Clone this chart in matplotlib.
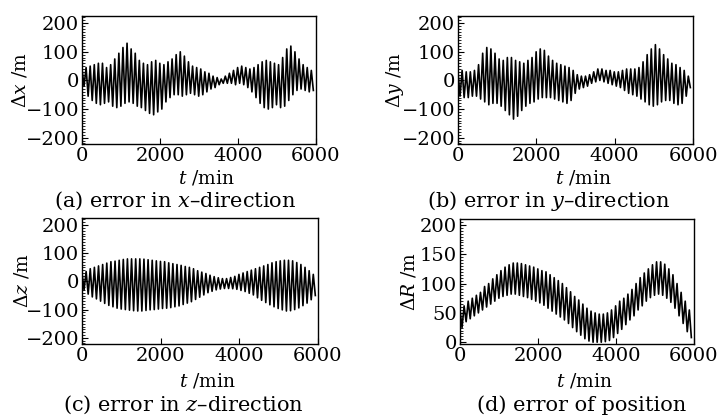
import numpy as np
import matplotlib.pyplot as plt
from matplotlib.ticker import MultipleLocator

plt.rcParams["font.family"] = "DejaVu Serif"
plt.rcParams["mathtext.fontset"] = "dejavuserif"

# one peak per orbit revolution (min), upper peak then lower peak half a period later
period = 105
half = 52

# (a) error in x, upper / lower peaks (m)
dx_hi = [40, 45, 50, 55, 60, 60, 45, 55, 75, 95, 115, 130, 110, 95, 70, 60, 55, 65, 70,
         60, 55, 65, 75, 90, 100, 85, 65, 50, 45, 40, 30, 25, 15, 10, 5, 15, 25, 35, 45,
         50, 45, 40, 45, 55, 65, 70, 65, 60, 55, 80, 110, 120, 100, 75, 55, 45, 35]
dx_lo = [-20, -55, -70, -80, -85, -80, -75, -90, -95, -90, -80, -75, -80, -90, -95, -105,
         -115, -120, -110, -100, -75, -60, -50, -50, -55, -50, -45, -50, -55, -50, -40,
         -30, -25, -15, -10, -10, -10, -15, -10, -15, -25, -40, -60, -80, -95, -100, -95,
         -85, -95, -90, -70, -50, -35, -30, -35, -40, -35]

# (b) error in y
dy_hi = [30, 35, 30, 30, 35, 55, 95, 115, 110, 95, 75, 70, 80, 80, 70, 65, 60, 70, 80,
         100, 110, 105, 85, 70, 60, 55, 50, 45, 35, 20, 15, 15, 20, 30, 40, 40, 35, 35,
         30, 30, 35, 40, 40, 40, 45, 65, 90, 110, 125, 110, 90, 75, 60, 55, 45, 35, 15]
dy_lo = [-55, -60, -60, -55, -55, -65, -75, -85, -80, -80, -90, -105, -120, -135, -125,
         -105, -90, -80, -75, -65, -60, -60, -60, -65, -70, -75, -80, -70, -45, -30, -25,
         -20, -10, -5, 0, -5, -10, -15, -20, -25, -35, -45, -50, -55, -65, -75, -85, -90,
         -85, -75, -70, -70, -80, -85, -80, -55, -25]

# (c) error in z
dz_hi = [30, 35, 45, 50, 55, 60, 65, 70, 72, 75, 78, 80, 80, 80, 80, 79, 77, 75, 73, 71,
         70, 66, 63, 60, 57, 53, 50, 45, 38, 33, 28, 22, 17, 13, 10, 10, 14, 18, 25, 30,
         35, 40, 45, 50, 55, 60, 66, 70, 73, 75, 75, 73, 67, 60, 50, 38, 25]
dz_lo = [-30, -45, -55, -62, -70, -78, -85, -90, -95, -98, -100, -102, -104, -105, -105,
         -103, -101, -100, -98, -96, -95, -93, -90, -87, -82, -77, -72, -64, -56, -48,
         -40, -35, -30, -27, -25, -25, -26, -28, -32, -36, -42, -48, -58, -67, -75, -83,
         -90, -96, -101, -105, -104, -100, -94, -86, -77, -65, -50]

# (d) error of position
dr_hi = [55, 62, 70, 75, 80, 85, 95, 100, 108, 115, 122, 128, 132, 135, 135, 134, 132,
         130, 128, 125, 122, 120, 115, 110, 105, 100, 93, 86, 78, 72, 65, 58, 53, 50, 48,
         48, 50, 55, 62, 70, 75, 82, 90, 100, 110, 118, 125, 132, 137, 137, 133, 125,
         115, 100, 85, 70, 55]
dr_lo = [25, 35, 40, 45, 50, 55, 60, 65, 70, 75, 78, 80, 82, 82, 80, 78, 76, 73, 70, 67,
         63, 58, 53, 48, 43, 38, 32, 25, 18, 12, 6, 2, 0, 0, 0, 1, 3, 8, 15, 22, 30, 38,
         45, 55, 62, 70, 76, 80, 82, 80, 75, 68, 58, 45, 32, 18, 8]

panels = [
    (dx_hi, dx_lo, r"$\Delta x$ /m", r"(a) error in $x$–direction"),
    (dy_hi, dy_lo, r"$\Delta y$ /m", r"(b) error in $y$–direction"),
    (dz_hi, dz_lo, r"$\Delta z$ /m", r"(c) error in $z$–direction"),
    (dr_hi, dr_lo, r"$\Delta R$ /m", "(d) error of position"),
]

W, H = 718, 415
fig = plt.figure(figsize=(W / 100, H / 100), dpi=100)

# axes boxes in pixels: left, top, right, bottom
boxes = [(82, 16, 316, 144), (458, 16, 693, 144), (82, 218, 318, 344), (460, 219, 694, 344)]
ylab_x = [20, 395, 22, 409]
cap_x = [175, 549, 183, 582]
tlab_dy = [34, 34, 37, 37]
cap_dy = [57, 57, 61, 61]

for i, (hi, lo, ylab, cap) in enumerate(panels):
    l, t, r, b = boxes[i]
    ax = fig.add_axes([l / W, (H - b) / H, (r - l) / W, (b - t) / H])

    t_hi = np.arange(len(hi)) * period
    t_lo = t_hi + half
    tt = np.empty(2 * len(hi))
    vv = np.empty(2 * len(hi))
    tt[0::2], tt[1::2] = t_hi, t_lo
    vv[0::2], vv[1::2] = hi, lo
    ax.plot(tt, vv, color="black", lw=1.2)

    ax.set_xlim(0, 6000)
    ax.set_xticks([0, 2000, 4000, 6000])
    if i == 3:
        ax.set_ylim(-3, 210)
        ax.set_yticks([0, 50, 100, 150, 200])
        ax.yaxis.set_minor_locator(MultipleLocator(5))
    else:
        ax.set_ylim(-222, 225)
        ax.set_yticks([-200, -100, 0, 100, 200])
        ax.yaxis.set_minor_locator(MultipleLocator(10))
    ax.tick_params(axis="both", which="both", direction="in", labelsize=14,
                   top=False, right=False, pad=2)
    ax.tick_params(axis="both", which="major", length=4)
    ax.tick_params(axis="y", which="minor", length=2)
    for sp in ax.spines.values():
        sp.set_linewidth(1.0)

    yc = (t + b) / 2
    fig.text(ylab_x[i] / W, 1 - yc / H, ylab, rotation=90, ha="center", va="center",
             fontsize=13.5)
    fig.text((l + r) / 2 / W + 8 / W, 1 - (b + tlab_dy[i]) / H, r"$t$ /min",
             ha="center", va="center", fontsize=13.5)
    fig.text(cap_x[i] / W, 1 - (b + cap_dy[i]) / H, cap, ha="center", va="center",
             fontsize=15)

fig.savefig("out.png", dpi=100)
